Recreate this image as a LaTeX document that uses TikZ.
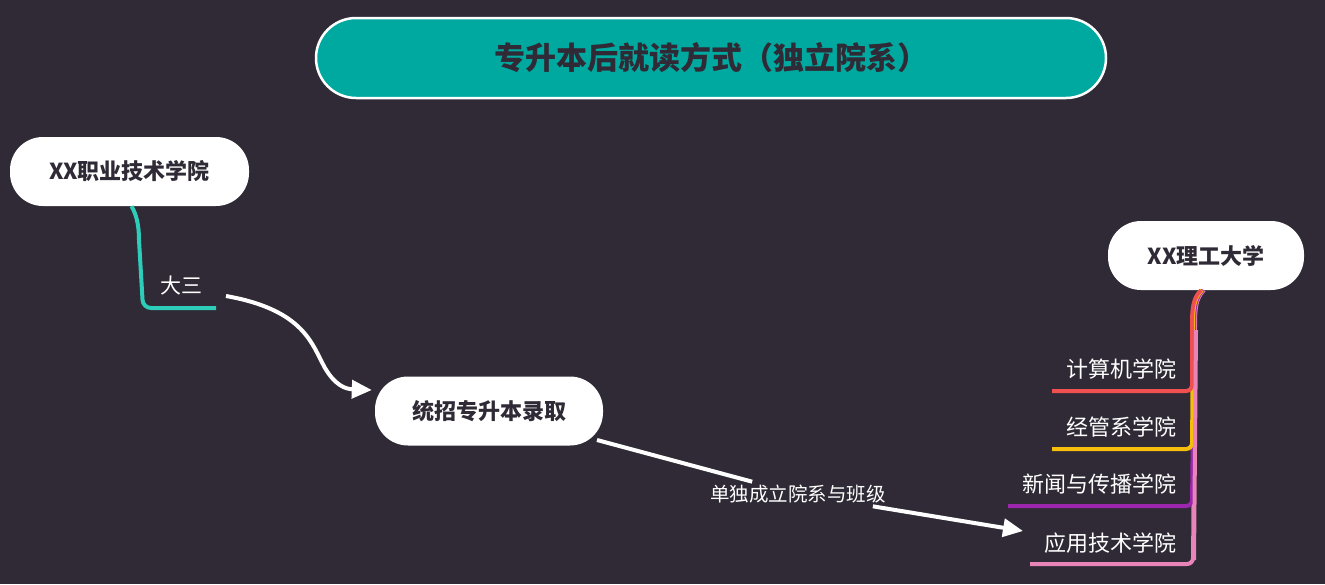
\documentclass[tikz,border=0pt]{standalone}
\usepackage{fontspec}
\setmainfont{Noto Sans CJK SC}
\usetikzlibrary{arrows.meta,calc}
\definecolor{bgc}{HTML}{2F2A35}
\definecolor{titlec}{HTML}{00A99F}
\definecolor{turq}{HTML}{2ECDBA}
\definecolor{redb}{HTML}{F0504F}
\definecolor{yelb}{HTML}{F8BE0C}
\definecolor{purb}{HTML}{9C27AE}
\definecolor{pinkb}{HTML}{E884B8}
\definecolor{darkt}{HTML}{2F2A35}
\tikzset{
  whitebox/.style={rectangle, rounded corners=33pt, fill=white, text=darkt, font=\fontsize{22}{26}\selectfont\bfseries, minimum height=69pt, inner sep=0pt},
  titlebox/.style={rectangle, rounded corners=40pt, fill=titlec, draw=white, line width=2.5pt, text=darkt, font=\fontsize{31}{35}\selectfont\bfseries, minimum width=790pt, minimum height=80pt},
  lbl/.style={text=white, font=\fontsize{22}{26}\selectfont, inner sep=1pt},
  conn/.style={draw=white, line width=4pt, -{Triangle[length=20pt,width=18pt]}},
  branch/.style={line width=4pt},
}
\begin{document}
\begin{tikzpicture}[x=1pt,y=-1pt]
\fill[bgc] (0,0) rectangle (1325,584);
\useasboundingbox (0,0) rectangle (1325,584);

\node[titlebox] (title) at (711,58) {专升本后就读方式（独立院系）};

\node[whitebox, minimum width=239pt] (lnode) at (129.5,171.5) {XX职业技术学院};
\node[whitebox, minimum width=228pt] (mnode) at (489,411) {统招专升本录取};
\node[whitebox, minimum width=196pt] (rnode) at (1206,255.5) {XX理工大学};

% left branch
\coordinate (tend) at (216,308);
\draw[branch, turq] ($(lnode.south)+(2,0)$) .. controls (136,214) and (139,224) .. (139,240)
  [rounded corners=8pt] -- (143,308) -- (tend);
\node[lbl, font=\fontsize{21}{25}\selectfont] (dasan) at (181,286) {大三};

% arrow 2 label
\node[lbl, font=\fontsize{19.5}{23}\selectfont, inner xsep=0pt, inner ysep=3pt] (dulab) at (798,494) {单独成立院系与班级};

% arrow 1
\coordinate (a1s) at (226,296);
\draw[conn] (a1s) .. controls (305,310) and (312,345) .. (325,368)
  .. controls (335,385) and (345,389) .. ($(mnode.west)+(-3,-21)$);

% arrow 2
\coordinate (a2s) at (597,440);
\coordinate (a2e) at (1023,531);
\draw[conn] (a2s) -- (dulab) -- (a2e);

% right branches
\draw[branch, pinkb] ($(rnode.south)+(-2,0)$) .. controls (1196,298) and (1195,308) .. (1195,325)
  [rounded corners=6pt] -- (1193,564) -- (1030,564) coordinate (p4);
\draw[branch, purb] ($(rnode.south)+(-3,0)$) .. controls (1195,298) and (1194,308) .. (1194,325)
  [rounded corners=6pt] -- (1192,506) -- (1008,506) coordinate (p3);
\draw[branch, yelb] ($(rnode.south)+(-4,0)$) .. controls (1194,298) and (1193,308) .. (1193,325)
  [rounded corners=6pt] -- (1192,449) -- (1052,449) coordinate (p2);
\draw[branch, redb] ($(rnode.south)+(-5,0)$) .. controls (1193,298) and (1192,308) .. (1192,325)
  [rounded corners=6pt] -- (1192,391) -- (1052,391) coordinate (p1);
\draw[branch, pinkb] (1196,330) -- (1194,560);

\node[lbl, anchor=east] (c1) at (1178,369) {计算机学院};
\node[lbl, anchor=east] (c2) at (1178,427) {经管系学院};
\node[lbl, anchor=east] (c3) at (1178,484) {新闻与传播学院};
\node[lbl, anchor=east] (c4) at (1178,543) {应用技术学院};
\end{tikzpicture}
\end{document}
